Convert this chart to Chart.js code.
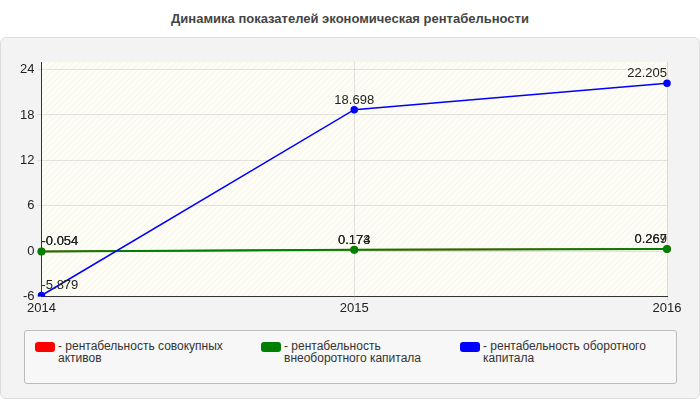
<!DOCTYPE html>
<html><head><meta charset="utf-8">
<script src="https://cdn.jsdelivr.net/npm/chart.js@4"></script>
<style>
body{margin:0;width:700px;height:400px;background:#fff;font-family:Arial,"Liberation Sans",sans-serif;position:relative;overflow:hidden}
#title{position:absolute;top:11px;left:0;width:700px;text-align:center;font-weight:bold;font-size:13px;color:#444}
#panel{position:absolute;left:0;top:37px;width:698px;height:360px;background:#f3f3f3;border:1px solid #ddd;border-radius:6px}
#wrap{position:absolute;left:0;top:50px;width:700px;height:266px}
#legend{position:absolute;left:24px;top:330px;width:651px;height:52px;border:1px solid #bbb;border-radius:3px;background:#f7f7f7}
.it{position:absolute;top:9px;font-size:12px;color:#333;line-height:12px}
.sw{position:absolute;left:0;top:2px;width:20px;height:10px;border-radius:3px}
.tx{position:absolute;left:23px;top:0;width:168px}
</style></head><body>
<div id="title">Динамика показателей экономическая рентабельности</div>
<div id="panel"></div>
<div id="wrap"><canvas id="c"></canvas></div>
<div id="legend"></div>
<script>
const categories=['2014','2015','2016'];
const seriesNames=['рентабельность совокупных активов','рентабельность внеоборотного капитала','рентабельность оборотного капитала'];
const seriesColors=['#ff0000','#008000','#0000ff'];
const redValues=[-0.054,0.174,0.267];
const greenValues=[-0.054,0.173,0.269];
const blueValues=[-5.879,18.698,22.205];
const yTicks=[-6,0,6,12,18,24];

const lg=document.getElementById('legend');
const lx=[10,236,435];
seriesNames.forEach((n,i)=>{const d=document.createElement('div');d.className='it';d.style.left=lx[i]+'px';
d.innerHTML='<div class="sw" style="background:'+seriesColors[i]+'"></div><div class="tx">- '+n+'</div>';lg.appendChild(d);});

const bg={id:'bg',beforeDraw(ch){const a=ch.chartArea,c=ch.ctx;c.save();c.fillStyle='#fdfdf6';c.fillRect(a.left,a.top,a.right-a.left,a.bottom-a.top);
c.beginPath();c.rect(a.left,a.top,a.right-a.left,a.bottom-a.top);c.clip();c.strokeStyle='rgba(0,0,0,0.04)';c.lineWidth=1;
for(let x=a.left-400;x<a.right;x+=6){c.beginPath();c.moveTo(x,a.bottom);c.lineTo(x+(a.bottom-a.top),a.top);c.stroke();}c.restore();}};
const lbl={id:'lbl',afterDatasetsDraw(ch){const c=ch.ctx;c.save();c.font='13px Arial';c.fillStyle='#222';
ch.data.datasets.forEach((d,i)=>{ch.getDatasetMeta(i).data.forEach((p,j)=>{const last=j===d.data.length-1;c.textAlign=last?'right':(j===0?'left':'center');
c.fillText(String(d.data[j]),p.x,p.y-6);});});c.restore();}};

new Chart(document.getElementById('c'),{type:'line',
data:{labels:categories,datasets:[
{label:seriesNames[0],data:redValues,borderColor:seriesColors[0],backgroundColor:seriesColors[0],order:3},
{label:seriesNames[1],data:greenValues,borderColor:seriesColors[1],backgroundColor:seriesColors[1],borderWidth:2,order:2},
{label:seriesNames[2],data:blueValues,borderColor:seriesColors[2],backgroundColor:seriesColors[2],order:1}].map(d=>Object.assign({borderWidth:1.5,pointRadius:3,tension:0,fill:false},d))},
options:{responsive:true,maintainAspectRatio:false,animation:false,
layout:{padding:{left:17,right:33,top:12,bottom:0}},
plugins:{legend:{display:false},tooltip:{enabled:false}},
scales:{x:{offset:false,grid:{color:'rgba(0,0,0,0.1)',tickLength:4},border:{color:'#333'},ticks:{color:'#222',font:{size:13},padding:0}},
y:{min:-6,max:25,afterBuildTicks(s){s.ticks=yTicks.map(v=>({value:v}));},grid:{color:'rgba(0,0,0,0.1)',tickLength:4},border:{color:'#333'},
ticks:{color:'#222',font:{size:13}}}}},
plugins:[bg,lbl]});
</script></body></html>
